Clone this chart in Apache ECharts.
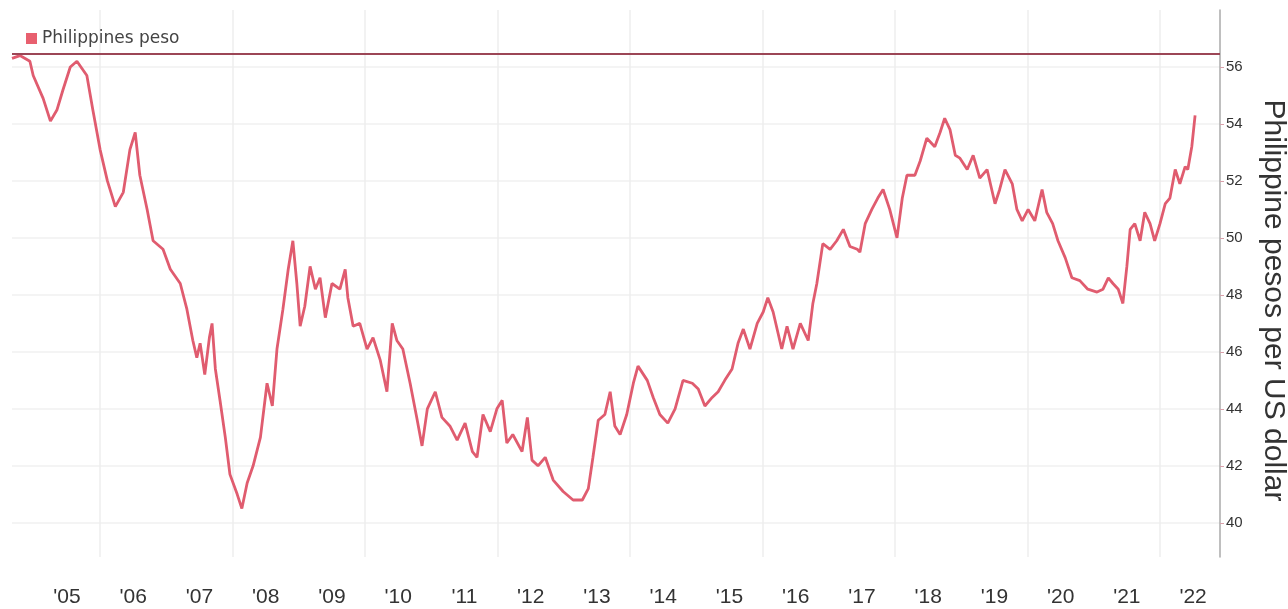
<!DOCTYPE html>
<html>
<head>
<meta charset="utf-8">
<script src="https://cdn.jsdelivr.net/npm/echarts@6/dist/echarts.min.js"></script>
<style>
html,body{margin:0;padding:0;background:#fff;}
#chart{width:1288px;height:609px;}
</style>
</head>
<body>
<div id="chart"></div>
<script>
// Decimal years (time) of sampled observations
var years = [2004.67,2004.79,2004.94,2004.99,2005.14,2005.25,2005.35,2005.44,2005.55,2005.65,2005.80,2005.89,
2006.00,2006.11,2006.23,2006.35,2006.45,2006.53,2006.60,2006.71,2006.80,2006.95,
2007.06,2007.21,2007.31,2007.40,2007.46,2007.51,2007.58,2007.65,2007.69,2007.74,2007.81,2007.89,2007.96,
2008.07,2008.14,2008.22,2008.31,2008.42,2008.52,2008.60,2008.67,2008.76,2008.84,2008.91,2008.97,
2009.02,2009.09,2009.17,2009.25,2009.32,2009.40,2009.50,2009.62,2009.70,2009.74,2009.82,2009.92,
2010.03,2010.12,2010.23,2010.33,2010.41,2010.48,2010.57,2010.68,2010.78,2010.86,2010.94,
2011.06,2011.16,2011.28,2011.39,2011.51,2011.62,2011.69,2011.78,2011.89,2011.99,
2012.07,2012.14,2012.23,2012.37,2012.45,2012.52,2012.61,2012.72,2012.84,2012.99,
2013.14,2013.28,2013.37,2013.44,2013.52,2013.62,2013.70,2013.77,2013.85,2013.95,
2014.05,2014.12,2014.26,2014.35,2014.45,2014.57,2014.68,2014.80,2014.94,
2015.03,2015.13,2015.24,2015.33,2015.43,2015.54,2015.63,2015.71,2015.81,2015.92,
2016.01,2016.08,2016.16,2016.29,2016.37,2016.46,2016.57,2016.69,2016.76,2016.82,2016.91,
2017.02,2017.12,2017.22,2017.32,2017.43,2017.47,2017.55,2017.65,2017.74,2017.82,2017.92,
2018.03,2018.11,2018.18,2018.30,2018.38,2018.48,2018.60,2018.68,2018.75,2018.83,2018.91,2018.98,
2019.09,2019.18,2019.28,2019.39,2019.51,2019.58,2019.66,2019.77,2019.84,2019.92,
2020.01,2020.11,2020.22,2020.29,2020.38,2020.46,2020.57,2020.67,2020.79,2020.91,
2021.05,2021.14,2021.22,2021.29,2021.37,2021.44,2021.50,2021.55,2021.62,2021.70,2021.77,2021.85,2021.92,
2022.00,2022.08,2022.15,2022.23,2022.30,2022.38,2022.42,2022.48,2022.53];

// Philippine pesos per US dollar
var pesoValues = [56.3,56.4,56.2,55.7,54.9,54.1,54.5,55.2,56.0,56.2,55.7,54.5,
53.1,52.0,51.1,51.6,53.1,53.7,52.2,51.0,49.9,49.6,
48.9,48.4,47.5,46.4,45.8,46.3,45.2,46.5,47.0,45.4,44.3,43.0,41.7,
41.0,40.5,41.4,42.0,43.0,44.9,44.1,46.1,47.5,48.9,49.9,48.4,
46.9,47.6,49.0,48.2,48.6,47.2,48.4,48.2,48.9,47.9,46.9,47.0,
46.1,46.5,45.7,44.6,47.0,46.4,46.1,44.9,43.7,42.7,44.0,
44.6,43.7,43.4,42.9,43.5,42.5,42.3,43.8,43.2,44.0,
44.3,42.8,43.1,42.5,43.7,42.2,42.0,42.3,41.5,41.1,
40.8,40.8,41.2,42.3,43.6,43.8,44.6,43.4,43.1,43.8,
44.9,45.5,45.0,44.4,43.8,43.5,44.0,45.0,44.9,
44.7,44.1,44.4,44.6,45.0,45.4,46.3,46.8,46.1,47.0,
47.4,47.9,47.4,46.1,46.9,46.1,47.0,46.4,47.7,48.4,49.8,
49.6,49.9,50.3,49.7,49.6,49.5,50.5,51.0,51.4,51.7,51.0,
50.0,51.4,52.2,52.2,52.7,53.5,53.2,53.7,54.2,53.8,52.9,52.8,
52.4,52.9,52.1,52.4,51.2,51.7,52.4,51.9,51.0,50.6,
51.0,50.6,51.7,50.9,50.5,49.9,49.3,48.6,48.5,48.2,
48.1,48.2,48.6,48.4,48.2,47.7,49.0,50.3,50.5,49.9,50.9,50.5,49.9,
50.5,51.2,51.4,52.4,51.9,52.5,52.4,53.2,54.3];

var seriesName = 'Philippines peso';
var recordWeakLevel = [56.45];
var labelYears = [2005,2006,2007,2008,2009,2010,2011,2012,2013,2014,2015,2016,2017,2018,2019,2020,2021,2022];
var gridYears = [2006,2008,2010,2012,2014,2016,2018,2020,2022];
var yTicks = [40,42,44,46,48,50,52,54,56];

var chart = echarts.init(document.getElementById('chart'));
var data = years.map(function (y, i) { return [y, pesoValues[i]]; });
var font = "'Liberation Sans', Arial, sans-serif";

chart.setOption({
  animation: false,
  backgroundColor: '#ffffff',
  grid: { left: 12, right: 68, top: 10, bottom: 52, containLabel: false, outerBoundsMode: 'none' },
  legend: {
    left: 21, top: 25,
    icon: 'rect', itemWidth: 11, itemHeight: 11, itemGap: 6,
    textStyle: { color: '#444', fontSize: 17, fontFamily: "'DejaVu Sans', sans-serif" },
    data: [seriesName]
  },
  xAxis: {
    type: 'value',
    min: 2004.67, max: 2022.906,
    axisLine: { show: false },
    axisTick: { show: false, customValues: gridYears },
    splitLine: { show: true, lineStyle: { color: '#eeeeee', width: 1.5 } },
    axisLabel: {
      customValues: labelYears.map(function (y) { return y + 0.5; }),
      formatter: function (v) { return "'" + String(Math.floor(v)).slice(2); },
      color: '#333', fontSize: 21, margin: 30, fontFamily: font
    }
  },
  yAxis: {
    type: 'value',
    position: 'right',
    min: 38.8, max: 58,
    name: 'Philippine pesos per US dollar',
    nameLocation: 'middle', nameRotate: -90, nameGap: 38,
    nameTextStyle: { color: '#333', fontSize: 30, fontFamily: font, padding: [0, 0, 0, 34] },
    axisLine: { show: true, lineStyle: { color: '#aaaaaa', width: 1.5 } },
    axisTick: { show: true, inside: false, length: 4, customValues: yTicks, lineStyle: { color: '#d9a0aa' } },
    splitLine: { show: true, lineStyle: { color: '#f0f0f0', width: 1.5 } },
    axisLabel: { customValues: yTicks, color: '#333', fontSize: 15, margin: 6, fontFamily: font }
  },
  series: [{
    name: seriesName,
    type: 'line',
    data: data,
    showSymbol: false,
    lineStyle: { color: '#e05c6f', width: 2.8 },
    itemStyle: { color: '#e8606f' },
    markLine: {
      silent: true, symbol: 'none', label: { show: false },
      lineStyle: { color: '#9c4656', width: 2, type: 'solid' },
      data: [{ yAxis: recordWeakLevel[0] }]
    }
  }]
});
</script>
</body>
</html>
